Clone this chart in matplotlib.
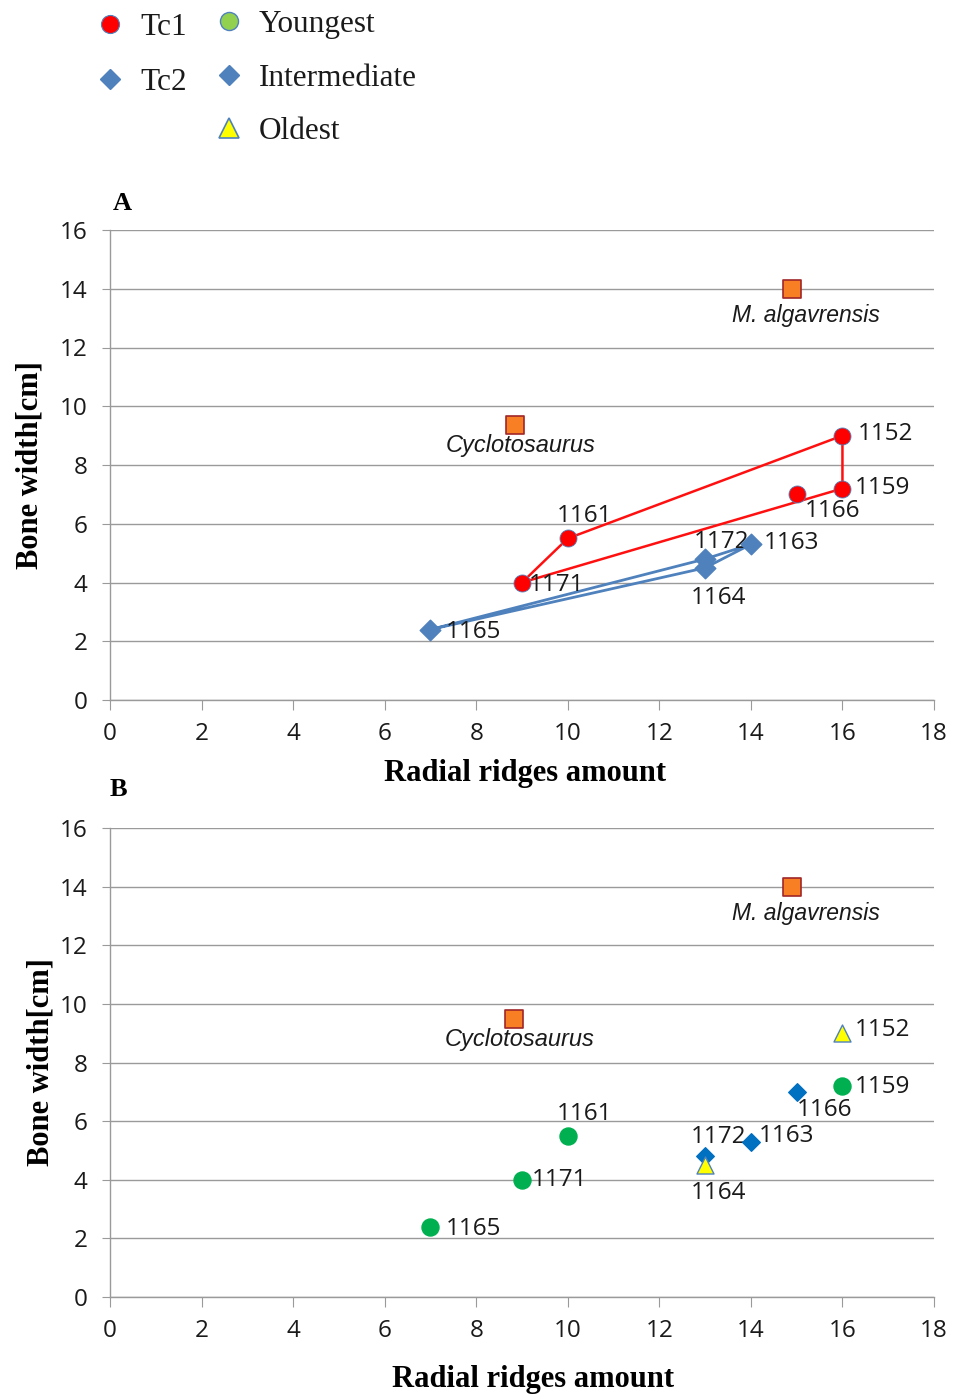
import matplotlib
matplotlib.use("Agg")
import matplotlib.pyplot as plt
from matplotlib.lines import Line2D

# ---------------- data ----------------
# Tc1 specimens (panel A, red)
tc1_ids = ["1152", "1159", "1166", "1161", "1171"]
tc1_x = [16, 16, 15, 10, 9]
tc1_y = [9.0, 7.2, 7.0, 5.5, 4.0]
tc1_path = ["1171", "1161", "1152", "1159", "1171"]

# Tc2 specimens (panel A, blue)
tc2_ids = ["1165", "1172", "1163", "1164"]
tc2_x = [7, 13, 14, 13]
tc2_y = [2.4, 4.8, 5.3, 4.5]
tc2_path = ["1165", "1172", "1163", "1164", "1165"]

# Panel B age classes
young_ids = ["1165", "1171", "1161", "1159"]
young_x = [7, 9, 10, 16]
young_y = [2.4, 4.0, 5.5, 7.2]
inter_ids = ["1166", "1163", "1172"]
inter_x = [15, 14, 13]
inter_y = [7.0, 5.3, 4.8]
old_ids = ["1152", "1164"]
old_x = [16, 13]
old_y = [9.0, 4.5]

# reference taxa
ref_names = ["Cyclotosaurus", "M. algavrensis"]
ref_x_A = [8.85, 14.9]
ref_y_A = [9.36, 14.0]
ref_x_B = [8.83, 14.9]
ref_y_B = [9.48, 14.0]

xticks = list(range(0, 19, 2))
yticks = list(range(0, 17, 2))

# label offsets (points) for each specimen label
lab_off = {
    "1152": (11, 1, "left", "center"),
    "1159": (9, 0, "left", "center"),
    "1166": (6, -12, "left", "center"),
    "1161": (-8, 16, "left", "center"),
    "1171": (5, -2, "left", "center"),
    "1165": (11, -2, "left", "center"),
    "1172": (-8, 12, "left", "center"),
    "1163": (9, 1, "left", "center"),
    "1164": (-10, -22, "left", "center"),
}
lab_off_B = dict(lab_off)
lab_off_B["1152"] = (9, 2, "left", "center")
lab_off_B["1164"] = (-10, -20, "left", "center")
lab_off_B["1172"] = (-10, 14, "left", "center")
lab_off_B["1163"] = (6, 4, "left", "center")
lab_off_B["1166"] = (0, -13, "left", "center")
lab_off_B["1171"] = (7, 0, "left", "center")
lab_off_B["1159"] = (9, -1, "left", "center")
lab_off_B["1161"] = (-8, 16, "left", "center")

W, H = 956, 1395
fig = plt.figure(figsize=(W / 100, H / 100), dpi=100)

GRID = "#9a9a9a"
NUMFONT = dict(family=["Open Sans", "DejaVu Sans"], fontsize=17.5, color="#1a1a1a")
SERIF = ["Liberation Serif", "DejaVu Serif"]


def style_axes(ax):
    ax.set_xlim(0, 18)
    ax.set_ylim(0, 16)
    ax.set_xticks(xticks)
    ax.set_yticks(yticks)
    ax.set_xticklabels([str(t) for t in xticks], **NUMFONT)
    ax.set_yticklabels([str(t) for t in yticks], **NUMFONT)
    ax.yaxis.grid(True, color=GRID, lw=1.0)
    ax.set_axisbelow(True)
    for s in ["top", "right"]:
        ax.spines[s].set_visible(False)
    for s in ["left", "bottom"]:
        ax.spines[s].set_color(GRID)
        ax.spines[s].set_linewidth(1.0)
    ax.tick_params(axis="x", direction="out", length=7, color=GRID, pad=9)
    ax.tick_params(axis="y", direction="out", length=6, color=GRID, pad=10)


def label_points(ax, ids, xs, ys, offs):
    for i, x, y in zip(ids, xs, ys):
        dx, dy, ha, va = offs[i]
        ax.annotate(i, (x, y), xytext=(dx, dy), textcoords="offset points",
                    ha=ha, va=va, **NUMFONT)


def refs(ax, xs, ys):
    ax.scatter(xs, ys, marker="s", s=150, color="#F97F24", edgecolor="#A0262A",
               linewidth=1.2, zorder=5)
    ax.annotate(ref_names[0], (xs[0], ys[0]), xytext=(-50, -15), textcoords="offset points",
                ha="left", va="center", family=["Liberation Sans", "DejaVu Sans"],
                style="italic", fontsize=17, color="#1a1a1a")
    ax.annotate(ref_names[1], (xs[1], ys[1]), xytext=(-43, -19), textcoords="offset points",
                ha="left", va="center", family=["Liberation Sans", "DejaVu Sans"],
                style="italic", fontsize=16.5, color="#1a1a1a")


# ---------------- panel A ----------------
axA = fig.add_axes([110 / W, 1 - 700 / H, 824 / W, 470 / H])
style_axes(axA)
d1 = dict(zip(tc1_ids, zip(tc1_x, tc1_y)))
d2 = dict(zip(tc2_ids, zip(tc2_x, tc2_y)))
axA.plot([d2[k][0] for k in tc2_path], [d2[k][1] for k in tc2_path],
         color="#4F81BD", lw=2.0, zorder=3)
axA.plot([d1[k][0] for k in tc1_path], [d1[k][1] for k in tc1_path],
         color="#FF1010", lw=1.8, zorder=3)
axA.scatter(tc2_x, tc2_y, marker="D", s=110, color="#4F81BD", edgecolor="#4F81BD", zorder=4)
axA.scatter(tc1_x, tc1_y, marker="o", s=150, color="#FF0000", edgecolor="#4F81BD",
            linewidth=0.6, zorder=4)
label_points(axA, tc1_ids, tc1_x, tc1_y, lab_off)
label_points(axA, tc2_ids, tc2_x, tc2_y, lab_off)
refs(axA, ref_x_A, ref_y_A)
axA.set_xlabel("Radial ridges amount", family=SERIF, fontweight="bold", fontsize=22,
               va="center")
axA.xaxis.set_label_coords((525 - 110) / 824, -73 / 470)
axA.set_ylabel("Bone width[cm]", family=SERIF, fontweight="bold", fontsize=22, labelpad=11)
fig.text(122 / W, 1 - 203 / H, "A", family=SERIF, fontweight="bold", fontsize=19,
         ha="center", va="center")

# ---------------- panel B ----------------
axB = fig.add_axes([110 / W, 1 - 1297 / H, 824 / W, 469 / H])
style_axes(axB)
axB.scatter(young_x, young_y, marker="o", s=150, color="#00B050", edgecolor="#00B050", zorder=4)
axB.scatter(inter_x, inter_y, marker="D", s=80, color="#0070C0", edgecolor="#0070C0", zorder=4)
axB.scatter(old_x, old_y, marker="^", s=150, color="#FFFF00", edgecolor="#4F81BD",
            linewidth=1.0, zorder=5)
label_points(axB, young_ids, young_x, young_y, lab_off_B)
label_points(axB, inter_ids, inter_x, inter_y, lab_off_B)
label_points(axB, old_ids, old_x, old_y, lab_off_B)
refs(axB, ref_x_B, ref_y_B)
axB.set_xlabel("Radial ridges amount", family=SERIF, fontweight="bold", fontsize=22,
               va="center")
axB.xaxis.set_label_coords((533 - 110) / 824, -83 / 469)
axB.set_ylabel("Bone width[cm]", family=SERIF, fontweight="bold", fontsize=22, labelpad=3)
fig.text(118 / W, 1 - 790 / H, "B", family=SERIF, fontweight="bold", fontsize=19,
         ha="center", va="center")

# ---------------- legends ----------------
h_tc = [
    Line2D([], [], ls="none", marker="o", ms=13, color="#FF0000", mec="#4F81BD", mew=0.8),
    Line2D([], [], ls="none", marker="D", ms=10, color="#4F81BD", mec="#4F81BD"),
]
h_age = [
    Line2D([], [], ls="none", marker="o", ms=13, color="#92D050", mec="#4F81BD", mew=1.0),
    Line2D([], [], ls="none", marker="D", ms=10, color="#4F81BD", mec="#4F81BD"),
    Line2D([], [], ls="none", marker="^", ms=14, color="#FFFF00", mec="#4F81BD", mew=1.2),
]
legprops = dict(family=SERIF, size=22.5)
leg1 = fig.legend(h_tc, ["Tc1", "Tc2"], loc="upper left",
                  bbox_to_anchor=(65 / W, 1 - (-15) / H), frameon=False, prop=legprops,
                  labelspacing=0.84, handlelength=1.1, handletextpad=0.4)
leg2 = fig.legend(h_age, ["Youngest", "Intermediate", "Oldest"], loc="upper left",
                  bbox_to_anchor=(184 / W, 1 - (-18) / H), frameon=False, prop=legprops,
                  labelspacing=0.78, handlelength=1.1, handletextpad=0.4)
for t in leg1.get_texts() + leg2.get_texts():
    t.set_color("#1a1a1a")

fig.savefig("out.png", dpi=100)
